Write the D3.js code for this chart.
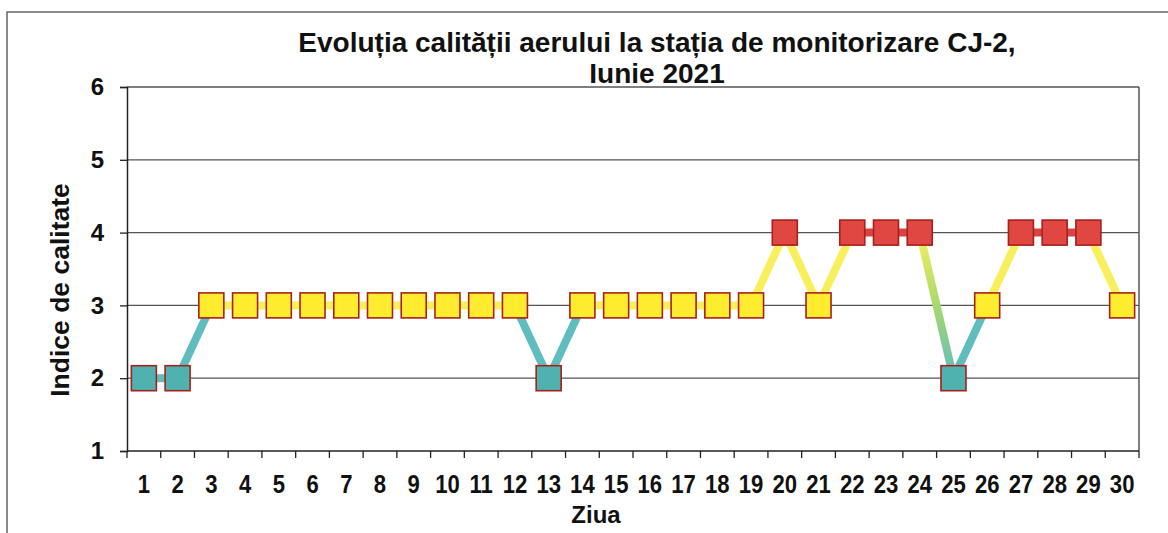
<!DOCTYPE html>
<html>
<head>
<meta charset="utf-8">
<script src="https://cdn.jsdelivr.net/npm/d3@7"></script>
<style>
  body { margin: 0; background: #fff; }
  svg { display: block; font-family: "Liberation Sans", Arial, sans-serif; font-weight: bold; }
</style>
</head>
<body>
<div id="chart"></div>
<script>
// data
var days = d3.range(1, 31);
var indice = [2, 2, 3, 3, 3, 3, 3, 3, 3, 3, 3, 3, 2, 3, 3, 3, 3, 3, 3, 4,
              3, 4, 4, 4, 2, 3, 4, 4, 4, 3];
var yTicks = [1, 2, 3, 4, 5, 6];
var titleLines = ["Evoluția calității aerului la stația de monitorizare CJ-2,", "Iunie 2021"];

var W = 1168, H = 533;
var margin = {top: 87, right: 29, bottom: 82, left: 127};

var data = days.map(function(d, i) { return {day: d, v: indice[i]}; });

var markerFill = {2: "#4fb2ae", 3: "#ffec2e", 4: "#e04743"};
var lineCol = {2: "#5fbdbd", 3: "#f7f05c", 4: "#d84444"};

var svg = d3.select("#chart").append("svg")
    .attr("width", W).attr("height", H);

// outer frame of the chart (left + top only visible in the scan)
svg.append("path")
    .attr("d", "M7," + H + "V12H" + W)
    .attr("fill", "none").attr("stroke", "#666").attr("stroke-width", 1.5);

var x = d3.scaleBand().domain(days).range([margin.left, W - margin.right]);
var y = d3.scaleLinear().domain([1, 6]).range([H - margin.bottom, margin.top]);

// horizontal grid
svg.append("g").selectAll("line")
    .data(yTicks.slice(1))
  .enter().append("line")
    .attr("x1", margin.left).attr("x2", W - margin.right)
    .attr("y1", function(d) { return y(d); }).attr("y2", function(d) { return y(d); })
    .attr("stroke", "#555").attr("stroke-width", 1.3);

// right border of plot area
svg.append("line")
    .attr("x1", W - margin.right).attr("x2", W - margin.right)
    .attr("y1", y(6)).attr("y2", y(1))
    .attr("stroke", "#555").attr("stroke-width", 1.5);

// y axis
var yAxis = svg.append("g")
    .attr("transform", "translate(" + margin.left + ",0)")
    .call(d3.axisLeft(y).tickValues(yTicks).tickFormat(d3.format("d")).tickSize(7).tickPadding(16));
yAxis.select(".domain").attr("stroke", "#222").attr("stroke-width", 1.5);
yAxis.selectAll(".tick line").attr("stroke", "#222").attr("stroke-width", 1.3);
yAxis.selectAll("text")
    .attr("font-size", 24).attr("font-weight", "bold").attr("fill", "#111")
    .attr("font-family", "Liberation Sans, Arial, sans-serif");

// x axis: ticks on category boundaries
var xAxisG = svg.append("g").attr("transform", "translate(0," + y(1) + ")");
xAxisG.append("line")
    .attr("x1", margin.left).attr("x2", W - margin.right)
    .attr("stroke", "#222").attr("stroke-width", 1.5);
xAxisG.selectAll(".tk")
    .data(days.concat([31]))
  .enter().append("line")
    .attr("class", "tk")
    .attr("x1", function(d) { return d <= 30 ? x(d) : x(30) + x.bandwidth(); })
    .attr("x2", function(d) { return d <= 30 ? x(d) : x(30) + x.bandwidth(); })
    .attr("y1", 0).attr("y2", 7)
    .attr("stroke", "#222").attr("stroke-width", 1.3);
xAxisG.selectAll(".lbl")
    .data(days)
  .enter().append("text")
    .attr("class", "lbl")
    .attr("transform", function(d) {
      return "translate(" + (x(d) + x.bandwidth() / 2) + ",42) scale(0.85,1)";
    })
    .attr("text-anchor", "middle")
    .attr("font-size", 26).attr("fill", "#111")
    .text(function(d) { return d; });

// connecting segments, coloured by level
var defs = svg.append("defs");
var segs = d3.pairs(data);
svg.append("g").selectAll("line")
    .data(segs)
  .enter().append("line")
    .attr("x1", function(s) { return x(s[0].day) + x.bandwidth() / 2; })
    .attr("y1", function(s) { return y(s[0].v); })
    .attr("x2", function(s) { return x(s[1].day) + x.bandwidth() / 2; })
    .attr("y2", function(s) { return y(s[1].v); })
    .attr("stroke-width", 8)
    .attr("stroke", function(s, i) {
      var a = s[0].v, b = s[1].v, lo = Math.min(a, b), hi = Math.max(a, b);
      if (hi - lo < 2) return lineCol[lo];
      var id = "grad" + i;
      var g = defs.append("linearGradient").attr("id", id)
          .attr("gradientUnits", "userSpaceOnUse")
          .attr("x1", x(s[0].day) + x.bandwidth() / 2).attr("y1", y(a))
          .attr("x2", x(s[1].day) + x.bandwidth() / 2).attr("y2", y(b));
      g.append("stop").attr("offset", "0%").attr("stop-color", a > b ? lineCol[hi - 1] : lineCol[lo]);
      g.append("stop").attr("offset", "50%").attr("stop-color", "#a8d870");
      g.append("stop").attr("offset", "100%").attr("stop-color", a > b ? lineCol[lo] : lineCol[hi - 1]);
      return "url(#" + id + ")";
    });

// square markers
var ms = 25;
svg.append("g").selectAll("rect")
    .data(data)
  .enter().append("rect")
    .attr("x", function(d) { return x(d.day) + x.bandwidth() / 2 - ms / 2; })
    .attr("y", function(d) { return y(d.v) - ms / 2; })
    .attr("width", ms).attr("height", ms)
    .attr("fill", function(d) { return markerFill[d.v]; })
    .attr("stroke", "#a8201a").attr("stroke-width", 1.6);

// title
svg.append("g").selectAll("text")
    .data(titleLines)
  .enter().append("text")
    .attr("x", 657).attr("y", function(d, i) { return 52 + i * 31; })
    .attr("text-anchor", "middle")
    .attr("font-size", 28).attr("fill", "#111")
    .text(function(d) { return d; });

// axis titles
svg.append("text")
    .attr("transform", "translate(69,290) rotate(-90)")
    .attr("text-anchor", "middle")
    .attr("font-size", 26.5).attr("fill", "#111")
    .text("Indice de calitate");

svg.append("text")
    .attr("x", 596).attr("y", 523)
    .attr("text-anchor", "middle")
    .attr("font-size", 24).attr("fill", "#111")
    .text("Ziua");
</script>
</body>
</html>
